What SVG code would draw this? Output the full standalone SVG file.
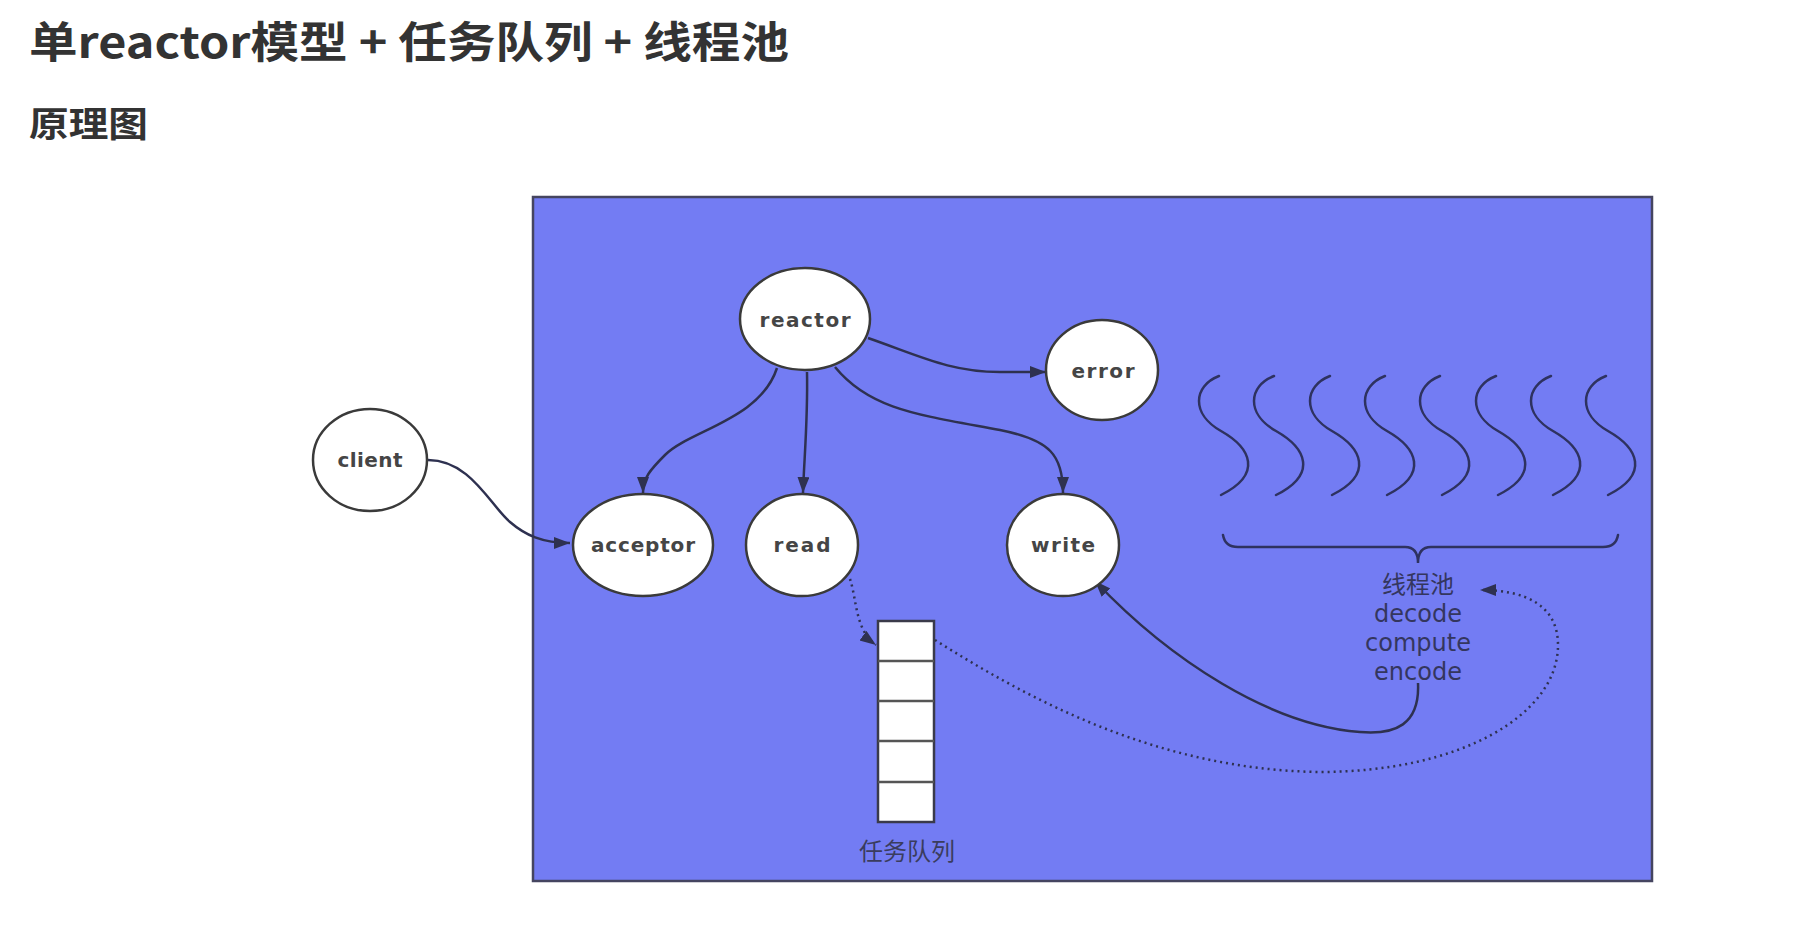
<svg xmlns="http://www.w3.org/2000/svg" width="1802" height="928" viewBox="0 0 1802 928">
<style>
.node ellipse{fill:#ffffff;stroke:#3a3a3a;stroke-width:2.5}
.node text{font-family:"DejaVu Sans","Liberation Sans",sans-serif;font-weight:bold;font-size:20px;fill:#454545;text-anchor:middle}
.conn{fill:none;stroke:#2e3150;stroke-width:2.5}
.dot{fill:none;stroke:#2e3150;stroke-width:2.5;stroke-dasharray:2 4}
.wave{fill:none;stroke:#2e3260;stroke-width:2.5;stroke-linecap:round}
.pool{font-family:"DejaVu Sans","Noto Sans CJK SC",sans-serif;font-size:24px;fill:#34365e;text-anchor:middle}
.cjk{font-family:"Noto Sans CJK SC",sans-serif;font-weight:bold;fill:#333333}
</style>
<defs>
<marker id="arr" markerUnits="userSpaceOnUse" markerWidth="18" markerHeight="14" refX="16" refY="6" orient="auto">
<path d="M0,0 L16,6 L0,12 z" fill="#2e3150"/>
</marker>
</defs>
<rect width="1802" height="928" fill="#ffffff"/>
<text class="cjk" x="29" y="58" font-size="43" textLength="760" lengthAdjust="spacingAndGlyphs">单reactor模型 + 任务队列 + 线程池</text>
<text class="cjk" x="29" y="137" font-size="35" textLength="119" lengthAdjust="spacingAndGlyphs">原理图</text>
<rect x="533" y="197" width="1119" height="684" fill="#737cf3" stroke="#454560" stroke-width="2.5"/>

<g id="threads">
<path class="wave" transform="translate(1219,376)" d="M0,0 C-26,10 -28,38 2,55 C32,72 44,98 2,119"/>
<path class="wave" transform="translate(1274,376)" d="M0,0 C-26,10 -28,38 2,55 C32,72 44,98 2,119"/>
<path class="wave" transform="translate(1330,376)" d="M0,0 C-26,10 -28,38 2,55 C32,72 44,98 2,119"/>
<path class="wave" transform="translate(1385,376)" d="M0,0 C-26,10 -28,38 2,55 C32,72 44,98 2,119"/>
<path class="wave" transform="translate(1440,376)" d="M0,0 C-26,10 -28,38 2,55 C32,72 44,98 2,119"/>
<path class="wave" transform="translate(1496,376)" d="M0,0 C-26,10 -28,38 2,55 C32,72 44,98 2,119"/>
<path class="wave" transform="translate(1551,376)" d="M0,0 C-26,10 -28,38 2,55 C32,72 44,98 2,119"/>
<path class="wave" transform="translate(1606,376)" d="M0,0 C-26,10 -28,38 2,55 C32,72 44,98 2,119"/>
<path class="wave" d="M1223,535 Q1225,547 1238,547 L1405,547 Q1418,547 1418,563 Q1418,547 1431,547 L1603,547 Q1616,547 1618,535"/>
<text class="pool" x="1418" y="593">线程池</text>
<text class="pool" x="1418" y="622">decode</text>
<text class="pool" x="1418" y="651">compute</text>
<text class="pool" x="1418" y="680">encode</text>
</g>

<g id="queue">
<rect x="878" y="621" width="56" height="201" fill="#ffffff" stroke="#3a3a4a" stroke-width="2.5"/>
<path d="M878,661 H934 M878,701 H934 M878,741 H934 M878,782 H934" stroke="#555555" stroke-width="2.5"/>
<text x="907" y="860" font-family="Noto Sans CJK SC,sans-serif" font-size="24" fill="#3a3c5e" text-anchor="middle">任务队列</text>
</g>

<g id="connectors">
<path class="conn" marker-end="url(#arr)" d="M428,460 C470,460 490,505 510,522 C525,535 542,543 570,543"/>
<path class="conn" marker-end="url(#arr)" d="M777,368 C760,420 690,430 665,455 C650,470 643,478 643,493"/>
<path class="conn" marker-end="url(#arr)" d="M807,372 C808,420 804,460 803,493"/>
<path class="conn" marker-end="url(#arr)" d="M835,367 C870,410 920,415 1000,430 C1050,440 1063,455 1063,493"/>
<path class="conn" marker-end="url(#arr)" d="M868,338 C920,356 950,372 1000,372 L1046,372"/>
<path class="conn" marker-end="url(#arr)" d="M1418,683 C1420,725 1395,735 1360,732 C1270,725 1170,660 1095,581"/>
<path class="dot" marker-end="url(#arr)" d="M850,579 C857,600 855,630 876,645"/>
<path class="dot" marker-end="url(#arr)" d="M935,640 C1030,700 1160,770 1320,772 C1460,772 1558,715 1558,645 C1558,605 1525,590 1480,590"/>
</g>

<g id="client" class="node"><ellipse cx="370" cy="460" rx="57" ry="51"/><text x="370" y="467" textLength="65" lengthAdjust="spacing">client</text></g>
<g id="reactor" class="node"><ellipse cx="805" cy="319" rx="65" ry="51"/><text x="805" y="327" textLength="91" lengthAdjust="spacing">reactor</text></g>
<g id="error" class="node"><ellipse cx="1102" cy="370" rx="56" ry="50"/><text x="1103" y="378" textLength="63" lengthAdjust="spacing">error</text></g>
<g id="acceptor" class="node"><ellipse cx="643" cy="545" rx="70" ry="51"/><text x="643" y="552" textLength="104" lengthAdjust="spacing">acceptor</text></g>
<g id="read" class="node"><ellipse cx="802" cy="545" rx="56" ry="51"/><text x="802" y="552" textLength="57" lengthAdjust="spacing">read</text></g>
<g id="write" class="node"><ellipse cx="1063" cy="545" rx="56" ry="51"/><text x="1063" y="552" textLength="64" lengthAdjust="spacing">write</text></g>
</svg>
